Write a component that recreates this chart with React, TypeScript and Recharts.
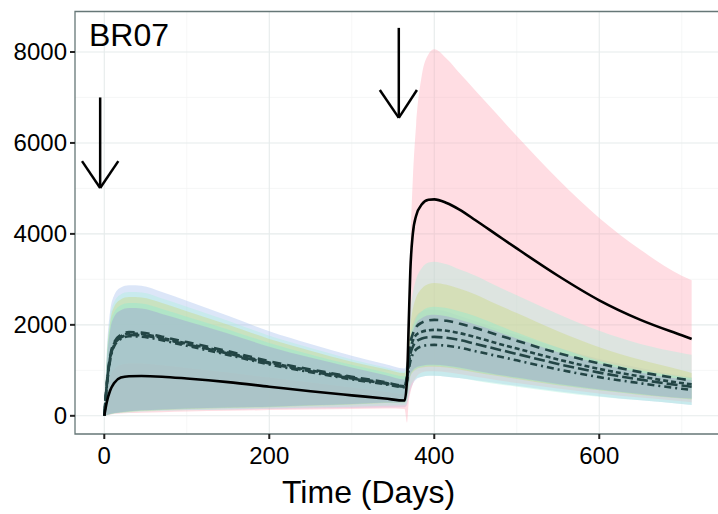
import React from 'react'
import {
  ComposedChart, Area, Line, XAxis, YAxis, CartesianGrid, ReferenceLine, ReferenceArea,
} from 'recharts'

// days since first dose
const days = [0, 3, 7, 12, 20, 30, 45, 70, 100, 150, 200, 250, 300, 340, 364, 367, 369, 371, 374, 378, 385, 393, 400, 415, 430, 450, 475, 500, 550, 600, 650, 700, 712]

// median lines
const medianBlack = [0, 300, 550, 720, 840, 870, 875, 860, 820, 740, 640, 540, 450, 380, 335, 800, 2000, 3200, 4000, 4400, 4650, 4750, 4760, 4680, 4540, 4300, 3990, 3680, 3080, 2540, 2110, 1770, 1690]
const medianDashed = [0, 700, 1300, 1620, 1780, 1840, 1830, 1740, 1620, 1420, 1200, 1020, 860, 740, 660, 900, 1300, 1600, 1800, 1950, 2050, 2100, 2110, 2090, 2030, 1930, 1790, 1650, 1380, 1150, 960, 810, 775]
const medianShortDash = [0, 680, 1270, 1590, 1750, 1810, 1800, 1710, 1590, 1390, 1170, 1000, 840, 725, 650, 850, 1200, 1450, 1650, 1780, 1850, 1880, 1890, 1870, 1820, 1730, 1600, 1480, 1240, 1030, 865, 720, 695]
const medianLongDash = [0, 660, 1240, 1560, 1720, 1780, 1770, 1690, 1570, 1370, 1150, 980, 820, 710, 640, 800, 1100, 1350, 1520, 1630, 1700, 1730, 1735, 1715, 1670, 1580, 1470, 1360, 1140, 950, 795, 665, 640]
const medianDotDash = [0, 640, 1210, 1530, 1690, 1750, 1740, 1660, 1540, 1340, 1130, 960, 800, 695, 630, 760, 1000, 1200, 1360, 1460, 1530, 1555, 1560, 1540, 1500, 1420, 1320, 1220, 1020, 850, 715, 595, 570]

// uncertainty bands
const blueLo = [0, 20, 40, 60, 80, 100, 110, 120, 130, 140, 150, 160, 170, 180, 190, 250, 400, 550, 700, 800, 860, 880, 880, 860, 830, 780, 720, 660, 540, 430, 340, 260, 240]
const blueHi = [0, 1400, 2300, 2650, 2820, 2870, 2860, 2720, 2530, 2200, 1860, 1580, 1320, 1140, 1040, 1200, 1500, 1800, 2050, 2200, 2300, 2330, 2330, 2290, 2200, 2080, 1920, 1780, 1500, 1250, 1050, 880, 850]
const pinkLo = [0, 12, 25, 38, 50, 62, 70, 80, 95, 110, 125, 140, 150, 160, 150, -150, 300, 500, 700, 850, 950, 980, 980, 960, 920, 860, 790, 720, 600, 490, 400, 320, 300]
const pinkHi = [0, 500, 850, 1030, 1120, 1150, 1150, 1110, 1050, 950, 840, 730, 620, 530, 480, 1500, 2500, 3800, 5200, 6400, 7500, 7950, 8060, 7850, 7550, 7150, 6650, 6150, 5200, 4350, 3650, 3080, 2980]
const mintLo = [0, 15, 30, 45, 60, 75, 90, 105, 120, 140, 160, 180, 200, 220, 230, 300, 500, 650, 750, 820, 860, 880, 880, 860, 830, 770, 700, 640, 520, 420, 340, 260, 240]
const mintHi = [0, 1300, 2150, 2500, 2670, 2720, 2710, 2580, 2400, 2090, 1760, 1490, 1240, 1070, 975, 1300, 1800, 2300, 2700, 3000, 3250, 3370, 3390, 3330, 3220, 3080, 2860, 2650, 2240, 1870, 1580, 1380, 1340]
const oliveLo = [0, 18, 36, 54, 72, 90, 110, 130, 150, 170, 190, 220, 250, 280, 290, 380, 660, 860, 960, 1020, 1060, 1080, 1080, 1060, 1020, 950, 880, 810, 670, 560, 460, 380, 360]
const oliveHi = [0, 1250, 2050, 2400, 2560, 2610, 2600, 2480, 2300, 2000, 1690, 1430, 1190, 1030, 940, 1200, 1600, 2000, 2350, 2600, 2800, 2900, 2920, 2880, 2800, 2670, 2460, 2260, 1860, 1510, 1230, 1000, 940]
const greenLo = [0, 19, 38, 57, 76, 95, 115, 135, 155, 175, 195, 225, 255, 285, 295, 390, 680, 880, 980, 1040, 1080, 1100, 1100, 1080, 1040, 970, 895, 825, 685, 570, 470, 385, 370]
const greenHi = [0, 1200, 1950, 2280, 2430, 2480, 2470, 2350, 2180, 1900, 1600, 1350, 1120, 960, 870, 1000, 1350, 1700, 1950, 2150, 2300, 2380, 2400, 2370, 2300, 2190, 2010, 1830, 1500, 1210, 1000, 860, 830]
const tealLo = [0, 20, 40, 60, 80, 100, 120, 140, 160, 180, 200, 230, 260, 290, 300, 400, 700, 900, 1000, 1060, 1100, 1120, 1120, 1100, 1060, 990, 910, 840, 700, 580, 480, 390, 380]
const tealHi = [0, 1150, 1870, 2180, 2320, 2370, 2360, 2240, 2080, 1810, 1520, 1280, 1060, 900, 800, 950, 1300, 1600, 1850, 2030, 2150, 2210, 2220, 2190, 2120, 2010, 1860, 1700, 1400, 1150, 955, 810, 790]

// axes
const xTicks = [0, 200, 400, 600]
const xMinor = [100, 300, 500, 700]
const yTicks = [0, 2000, 4000, 6000, 8000]
const yMinor = [1000, 3000, 5000, 7000]

// dosing arrows
const doseArrows = [
  { day: -5, top: 7000, tip: 5010, armLeft: -27, armRight: 17, armY: 5600 },
  { day: 357, top: 8530, tip: 6550, armLeft: 334, armRight: 379, armY: 7165 },
]

const rows = days.map((day, i) => ({
  day,
  black: medianBlack[i],
  dashed: medianDashed[i],
  shortDash: medianShortDash[i],
  longDash: medianLongDash[i],
  dotDash: medianDotDash[i],
  blue: [blueLo[i], blueHi[i]],
  pink: [pinkLo[i], pinkHi[i]],
  mint: [mintLo[i], mintHi[i]],
  olive: [oliveLo[i], oliveHi[i]],
  green: [greenLo[i], greenHi[i]],
  teal: [tealLo[i], tealHi[i]],
}))

const bands = [
  { key: 'blue', color: '#A7C0ED' },
  { key: 'pink', color: '#FFAAB9' },
  { key: 'mint', color: '#AAF1DB' },
  { key: 'olive', color: '#CBD87C' },
  { key: 'green', color: '#8DECD1' },
  { key: 'teal', color: '#A09CD1' },
]

const slate = '#234545'
const medians = [
  { key: 'dashed', color: slate, dash: '9 6' },
  { key: 'shortDash', color: slate, dash: '5 3' },
  { key: 'longDash', color: slate, dash: '11 4' },
  { key: 'dotDash', color: slate, dash: '7 4 2 4' },
  { key: 'black', color: '#000', dash: undefined },
]

const font = '"Liberation Sans", Arial, sans-serif'

function XTick({ x, y, payload }: any) {
  return (
    <text x={x} y={y} dy="0.71em" textAnchor="middle" fontSize={24} fontFamily={font} fill="#000">
      {payload.value}
    </text>
  )
}

function YTick({ x, y, payload }: any) {
  return (
    <text x={x} y={y} dy="0.355em" textAnchor="end" fontSize={24} fontFamily={font} fill="#000">
      {payload.value}
    </text>
  )
}

export default function App() {
  return (
    <div style={{ position: 'absolute', left: 0, top: 0, width: 718, height: 514, overflow: 'hidden', background: '#fff' }}>
      <ComposedChart
        width={730}
        height={514}
        data={rows}
        margin={{ top: 11.5, right: 7, bottom: 0, left: 0 }}
        style={{ fontFamily: font }}
      >
        <CartesianGrid stroke="#F2F4F4" strokeWidth={0.7} verticalValues={xMinor} horizontalValues={yMinor} />
        <CartesianGrid stroke="#E6EBEB" strokeWidth={1.1} verticalValues={xTicks} horizontalValues={yTicks} />
        <XAxis
          type="number"
          dataKey="day"
          domain={[-35.5, 750]}
          ticks={xTicks}
          allowDataOverflow
          height={80}
          axisLine={false}
          tickSize={5}
          tickMargin={8}
          tickLine={{ stroke: '#222', strokeWidth: 2 }}
          tick={XTick}
        />
        <YAxis
          type="number"
          domain={[-400, 8890]}
          ticks={yTicks}
          allowDataOverflow
          width={75}
          axisLine={false}
          tickSize={5}
          tickMargin={3}
          tickLine={{ stroke: '#222', strokeWidth: 2 }}
          tick={YTick}
        />
        {bands.map((b) => (
          <Area
            key={b.key}
            type="monotone"
            dataKey={b.key}
            stroke="none"
            fill={b.color}
            fillOpacity={0.4}
            isAnimationActive={false}
            activeDot={false}
          />
        ))}
        {medians.map((m) => (
          <Line
            key={m.key}
            type="monotone"
            dataKey={m.key}
            stroke={m.color}
            strokeWidth={2.6}
            strokeDasharray={m.dash}
            dot={false}
            activeDot={false}
            isAnimationActive={false}
          />
        ))}
        {doseArrows.map((a, i) => (
          <ReferenceLine key={'s' + i} segment={[{ x: a.day, y: a.top }, { x: a.day, y: a.tip }]} stroke="#000" strokeWidth={2.5} />
        ))}
        {doseArrows.map((a, i) => (
          <ReferenceLine key={'l' + i} segment={[{ x: a.armLeft, y: a.armY }, { x: a.day, y: a.tip }]} stroke="#000" strokeWidth={2.5} />
        ))}
        {doseArrows.map((a, i) => (
          <ReferenceLine key={'r' + i} segment={[{ x: a.armRight, y: a.armY }, { x: a.day, y: a.tip }]} stroke="#000" strokeWidth={2.5} />
        ))}
        <ReferenceArea x1={-35.5} x2={750} y1={-400} y2={8890} fill="none" stroke="#667777" strokeWidth={1.3} />
      </ComposedChart>
      <div style={{ position: 'absolute', left: 89, top: 19, fontSize: 32, lineHeight: '32px', fontFamily: font, color: '#000' }}>
        BR07
      </div>
      <div style={{ position: 'absolute', left: 282, top: 476, fontSize: 32, lineHeight: '32px', fontFamily: font, color: '#000' }}>
        Time (Days)
      </div>
    </div>
  )
}
